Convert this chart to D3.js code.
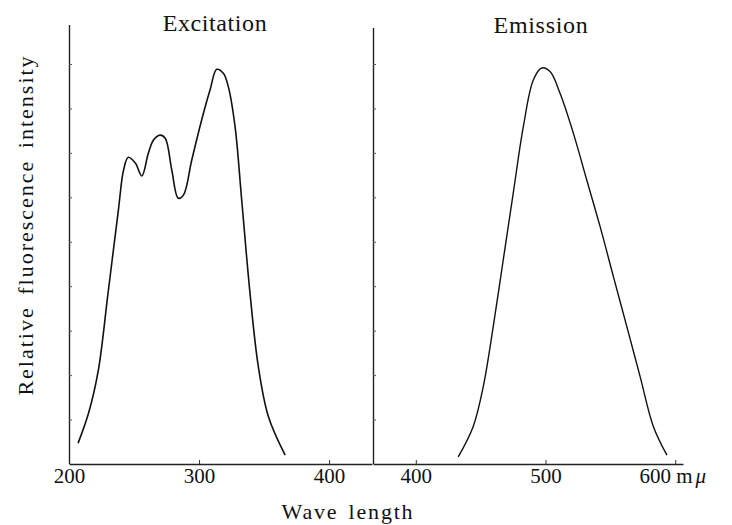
<!DOCTYPE html>
<html>
<head>
<meta charset="utf-8">
<script src="https://cdn.jsdelivr.net/npm/d3@7"></script>
<style>
  body { margin: 0; background: #fff; }
  svg { display: block; }
</style>
</head>
<body>
<div id="chart"></div>
<script>
// wavelength (m mu) and relative intensity
const excitationX = [207, 215, 222.5, 230, 238, 242, 245.6, 251, 256, 261, 265, 270, 274, 279, 284, 288, 294.4, 302, 308.5, 313.6, 318.7, 322.5, 327.7, 332.8, 339.2, 345.6, 353.3, 366.2];
const excitationY = [0.47, 1.14, 2.1, 3.84, 5.72, 6.62, 6.9, 6.77, 6.48, 6.99, 7.29, 7.4, 7.33, 6.62, 5.98, 6.05, 6.84, 7.74, 8.42, 8.88, 8.79, 8.49, 7.59, 5.94, 3.84, 2.19, 1.07, 0.2];

const emissionX = [432.7, 444.2, 452, 459.7, 467.4, 475.1, 482.9, 490.6, 497.1, 503.5, 511.2, 521.5, 531.8, 542.1, 552.4, 562.7, 573, 583.2, 593.6];
const emissionY = [0.16, 0.84, 1.74, 3.09, 4.59, 6.09, 7.59, 8.64, 8.91, 8.83, 8.34, 7.44, 6.39, 5.34, 4.21, 3.09, 1.96, 0.84, 0.2];

const leftTicks = [200, 300, 400];
const rightTicks = [400, 500, 600];
const yTicks = [1, 2, 3, 4, 5, 6, 7, 8, 9];

const width = 732, height = 525;
const serif = '"Liberation Serif", "Times New Roman", serif';

const svg = d3.select('#chart').append('svg')
  .attr('width', width)
  .attr('height', height);

const y = d3.scaleLinear().domain([0, 9.9]).range([464, 24]);
const xLeft = d3.scaleLinear().domain([200, 433]).range([69, 372]);
const xRight = d3.scaleLinear().domain([367, 606]).range([373, 683]);

function drawPanel(x, ticks, topY) {
  // x axis, ticks pointing up into the plot
  const gx = svg.append('g')
    .attr('transform', `translate(0,${y(0)})`)
    .call(d3.axisBottom(x).tickValues(ticks).tickSize(-4).tickSizeOuter(0).tickPadding(4));
  gx.attr('font-family', serif).attr('font-size', 21);
  gx.select('.domain').attr('stroke', '#222').attr('stroke-width', 1.4);
  gx.selectAll('.tick line').attr('stroke', '#333');
  gx.selectAll('.tick text').attr('fill', '#111');

  // y axis with small inward ticks, no labels
  const gy = svg.append('g')
    .attr('transform', `translate(${x.range()[0]},0)`)
    .call(d3.axisRight(y).tickValues(yTicks).tickSize(3).tickSizeOuter(0).tickFormat(''));
  gy.select('.domain').attr('stroke', '#222').attr('stroke-width', 1.4)
    .attr('d', `M0.5,${y(0)}V${topY}`);
  gy.selectAll('.tick line').attr('stroke', '#555');
  return gx;
}

drawPanel(xLeft, leftTicks, 25);
const gxRight = drawPanel(xRight, rightTicks, 28);

// "600 m mu" label
gxRight.selectAll('.tick text')
  .filter(d => d === 600)
  .text(null)
  .attr('x', -3)
  .call(t => {
    t.append('tspan').text('600 m');
    t.append('tspan').attr('font-style', 'italic').attr('dx', 3).text('\u03bc');
  });

const line = (x) => d3.line()
  .x(d => x(d[0]))
  .y(d => y(d[1]))
  .curve(d3.curveCatmullRom.alpha(0.5));

svg.append('path')
  .datum(d3.zip(excitationX, excitationY))
  .attr('d', line(xLeft))
  .attr('fill', 'none')
  .attr('stroke', '#111')
  .attr('stroke-width', 1.6);

svg.append('path')
  .datum(d3.zip(emissionX, emissionY))
  .attr('d', line(xRight))
  .attr('fill', 'none')
  .attr('stroke', '#111')
  .attr('stroke-width', 1.4);

// titles
svg.append('text')
  .attr('font-family', serif)
  .attr('font-size', 24)
  .attr('fill', '#111')
  .attr('x', 215).attr('y', 31)
  .attr('text-anchor', 'middle')
  .style('letter-spacing', '0.6px')
  .text('Excitation');

svg.append('text')
  .attr('font-family', serif)
  .attr('font-size', 24)
  .attr('fill', '#111')
  .attr('x', 541).attr('y', 33)
  .attr('text-anchor', 'middle')
  .style('letter-spacing', '0.7px')
  .text('Emission');

// axis titles
svg.append('text')
  .attr('font-family', serif)
  .attr('font-size', 22)
  .attr('fill', '#111')
  .attr('transform', 'translate(33,225) rotate(-90)')
  .attr('text-anchor', 'middle')
  .style('letter-spacing', '2px')
  .style('word-spacing', '4px')
  .text('Relative fluorescence intensity');

svg.append('text')
  .attr('font-family', serif)
  .attr('font-size', 22)
  .attr('fill', '#111')
  .attr('x', 348).attr('y', 519)
  .attr('text-anchor', 'middle')
  .style('letter-spacing', '1.8px')
  .style('word-spacing', '3px')
  .text('Wave length');
</script>
</body>
</html>
